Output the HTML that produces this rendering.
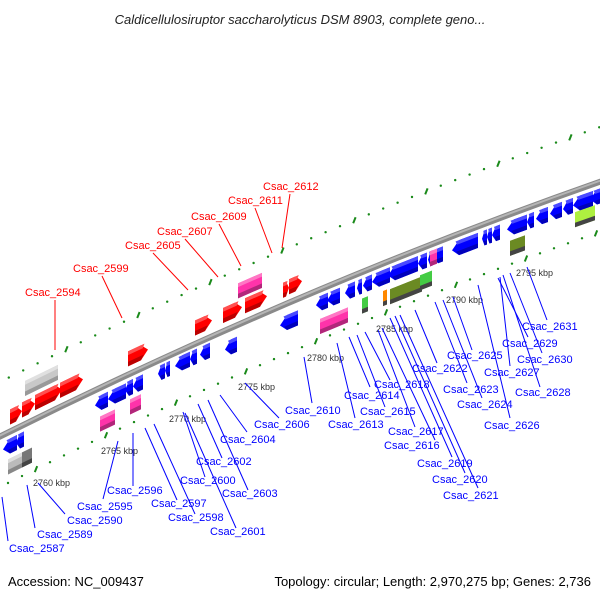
<!DOCTYPE html>
<html><head><meta charset="utf-8"><style>
html,body{margin:0;padding:0;background:#fff;}
svg{display:block;font-family:"Liberation Sans",sans-serif;}
</style></head><body>
<svg id="chart" width="600" height="600" viewBox="0 0 600 600">
<text x="300" y="24" text-anchor="middle" font-size="13" font-style="italic" fill="#222">Caldicellulosiruptor saccharolyticus DSM 8903, complete geno...</text>
<g id="ticks"></g>
<path d="M-5,439 Q300,286.5 605,180" stroke="#8a8a8a" stroke-width="6" fill="none"/>
<path d="M-5,438 Q300,285.5 605,179" stroke="#b5b5b5" stroke-width="2" fill="none"/>
<g id="genes"></g>
<g id="labels"></g>
<text x="8" y="586" font-size="13" fill="#000">Accession: NC_009437</text>
<text x="591" y="586" font-size="13" fill="#000" text-anchor="end">Topology: circular; Length: 2,970,275 bp; Genes: 2,736</text>
</svg>
<script>
// gene data: start x, end x, vertical offset from backbone, direction, colour
const geneStart = [10,22,35,60,25,128,195,223,245,238,283,289,
 3,16,95,108,125,133,158,165,175,190,200,225,280,316,327,345,357,363,372,388,418,428,433,452,482,487,492,507,527,536,550,563,573,590,
 100,130,320,334,430,362,383,390,420,510,575,8,22];
const geneEnd = [22,35,62,83,58,148,212,242,267,262,289,302,
 17,24,108,126,133,143,165,170,190,197,210,237,298,328,340,355,362,372,390,418,427,433,443,478,487,492,500,527,534,548,562,573,593,605,
 115,141,334,348,437,368,387,422,432,525,595,22,32];
const geneOffset = [-15,-16,-17,-17,-36,-16,-16,-16,-16,-34,-15,-16,
 14,14,15,15,14,14,13,13,13,13,13,19,19,14,14,14,14,14,14,14,14,14,14,14,14,14,14,14,14,14,14,14,14,14,
 36,33,37,37,14,34,35,36,34,34,29,34,34];
const geneDir = [1,1,1,1,0,1,1,1,1,0,1,1,
 -1,-1,-1,-1,-1,-1,-1,-1,-1,-1,-1,-1,-1,-1,-1,-1,-1,-1,-1,-1,-1,-1,-1,-1,-1,-1,-1,-1,-1,-1,-1,-1,-1,-1,
 0,0,0,0,0,0,0,0,0,0,0,0,0];
const geneColor = ["#f00","#f00","#f00","#f00","#c8c8c8","#f00","#f00","#f00","#f00","#f3a","#f00","#f00",
 "#00f","#00f","#00f","#00f","#00f","#00f","#00f","#00f","#00f","#00f","#00f","#00f","#00f","#00f","#00f","#00f","#00f","#00f","#00f","#00f","#00f","#00f","#00f","#00f","#00f","#00f","#00f","#00f","#00f","#00f","#00f","#00f","#00f","#00f",
 "#f3a","#f3a","#f3a","#f3a","#f3a","#4c4","#f80","#6b8a23","#4c4","#6b8a23","#aef040","#bbb","#777"];
// tick labels
const kbpLabels = ["2760 kbp","2765 kbp","2770 kbp","2775 kbp","2780 kbp","2785 kbp","2790 kbp","2795 kbp"];
const kbpX = [33,101,169,238,307,376,446,516];
const kbpY = [486,454,422,390,361,332,303,276];
// labels
const redNames = ["Csac_2594","Csac_2599","Csac_2605","Csac_2607","Csac_2609","Csac_2611","Csac_2612"];
const redTX = [25,73,125,157,191,228,263];
const redTY = [296,272,249,235,220,204,190];
const redL = [[55,300,55,350],[102,276,122,318],[153,253,188,290],[185,239,218,277],[219,224,241,266],[255,208,272,253],[290,194,282,248]];
const blueNames = ["Csac_2587","Csac_2589","Csac_2590","Csac_2595","Csac_2596","Csac_2597","Csac_2598","Csac_2600","Csac_2601","Csac_2602","Csac_2603","Csac_2604","Csac_2606",
 "Csac_2610","Csac_2613","Csac_2614","Csac_2615","Csac_2618","Csac_2617","Csac_2616","Csac_2619","Csac_2620","Csac_2621","Csac_2622","Csac_2623","Csac_2624","Csac_2625","Csac_2626","Csac_2627","Csac_2628","Csac_2629","Csac_2630","Csac_2631"];
const blueTX = [9,37,67,77,107,151,168,180,210,196,222,220,254,285,328,344,360,374,388,384,417,432,443,412,443,457,447,484,484,515,502,517,522];
const blueTY = [552,538,524,510,494,507,521,484,535,465,497,443,428,414,428,399,415,388,435,449,467,483,499,372,393,408,359,429,376,396,347,363,330];
const blueL = [[8,541,2,497],[35,528,27,485],[65,514,38,483],[103,499,118,441],[133,486,133,433],[177,500,145,428],[195,514,154,424],[205,477,183,412],[236,528,185,413],[222,458,198,404],[248,490,208,400],[247,432,220,395],[279,418,245,383],
 [312,403,304,357],[355,418,337,343],[370,387,349,337],[385,407,357,335],[390,380,365,332],[415,427,378,330],[435,440,382,328],[452,457,390,318],[465,473,395,316],[478,488,400,315],[437,363,415,310],[467,383,435,302],[482,398,443,300],[472,350,453,297],[510,418,478,285],[510,366,500,277],[540,387,503,275],[528,337,498,278],[542,353,510,273],[547,320,527,267]];

const NS="http://www.w3.org/2000/svg";
function yb(x){const t=x/600;return (1-t)*(1-t)*437+2*t*(1-t)*286.5+t*t*182;}
function mk(tag,attrs,parent){const e=document.createElementNS(NS,tag);for(const k in attrs)e.setAttribute(k,attrs[k]);parent.appendChild(e);return e;}
const gT=document.getElementById('ticks');
for(let x=-20;x<620;x+=14.4){
  const k=Math.round((567-x)/14.4);const major=(k%5===0);
  const y=yb(x)-55;
  const d=mk(major?'line':'circle',major?{x1:x-1.2,y1:y+3,x2:x+1.2,y2:y-3,stroke:'#1a8a1a','stroke-width':2}:{cx:x,cy:y,r:1.2,fill:'#1a8a1a'},gT);
  
  
}
for(let x=-20;x<620;x+=14){
  const k=Math.round((527-x)/14);const major=(k%5===0);
  const y=yb(x)+50;
  const d=mk(major?'line':'circle',major?{x1:x-1.2,y1:y+3,x2:x+1.2,y2:y-3,stroke:'#1a8a1a','stroke-width':2}:{cx:x,cy:y,r:1.2,fill:'#1a8a1a'},gT);
  
  
}
kbpLabels.forEach((s,i)=>{
  const t=mk('text',{x:kbpX[i],y:kbpY[i],'font-size':9,fill:'#333'},gT);t.textContent=s;
  
  
});
const gG=document.getElementById('genes');
function dark(c){return c==="#f00"?"#b00":c==="#00f"?"#00b":c==="#f3a"?"#b1277a":c==="#c8c8c8"?"#999":c==="#bbb"?"#888":"#444";}
function light(c){return c==="#f00"?"#ff5050":c==="#00f"?"#4a4aff":c==="#f3a"?"#ff77c4":c==="#c8c8c8"?"#e0e0e0":c==="#bbb"?"#ddd":c;}
geneStart.forEach((x1,i)=>{
  const x2=geneEnd[i],o=geneOffset[i],dir=geneDir[i],c=geneColor[i],h=7.5;
  const L=x2-x1,head=Math.min(7,L*0.5);
  const P=(x,d)=>[x,yb(x)+o+d];
  let pts;
  if(dir===1) pts=[P(x1,-h),P(x2-head,-h),P(x2,0),P(x2-head,h),P(x1,h)];
  else if(dir===-1) pts=[P(x1,0),P(x1+head,-h),P(x2,-h),P(x2,h),P(x1+head,h)];
  else pts=[P(x1,-h),P(x2,-h),P(x2,h),P(x1,h)];
  const str=pts.map(q=>q.join(',')).join(' ');
  const p=mk('polygon',{points:str,fill:c},gG);
  
  
  const tp=[P(x1+(dir===-1?head*0.5:0),-h),P(x2-(dir===1?head*0.5:0),-h),P(x2-(dir===1?head*0.75:0),-h*0.5),P(x1+(dir===-1?head*0.75:0),-h*0.5)];
  const s1=mk('polygon',{points:tp.map(q=>q.join(',')).join(' '),fill:light(c)},gG);
  
  
  const b=[P(x1+(dir===-1?head*0.6:0),h*0.4),P(x2-(dir===1?head*0.6:0),h*0.4),P(x2-(dir===1?head:0),h),P(x1+(dir===-1?head:0),h)];
  const s=mk('polygon',{points:b.map(q=>q.join(',')).join(' '),fill:dark(c)},gG);
  
  
});
const gL=document.getElementById('labels');
redNames.forEach((n,i)=>{
  const l=redL[i];
  const ln=mk('line',{x1:l[0],y1:l[1],x2:l[2],y2:l[3],stroke:'#f00','stroke-width':1},gL);
  
  
  const t=mk('text',{x:redTX[i],y:redTY[i],'font-size':11,fill:'#f00'},gL);t.textContent=n;
  
  
});
blueNames.forEach((n,i)=>{
  const l=blueL[i];
  const ln=mk('line',{x1:l[0],y1:l[1],x2:l[2],y2:l[3],stroke:'#00f','stroke-width':1},gL);
  
  
  const t=mk('text',{x:blueTX[i],y:blueTY[i],'font-size':11,fill:'#00f'},gL);t.textContent=n;
  
  
});
</script>
</body></html>
